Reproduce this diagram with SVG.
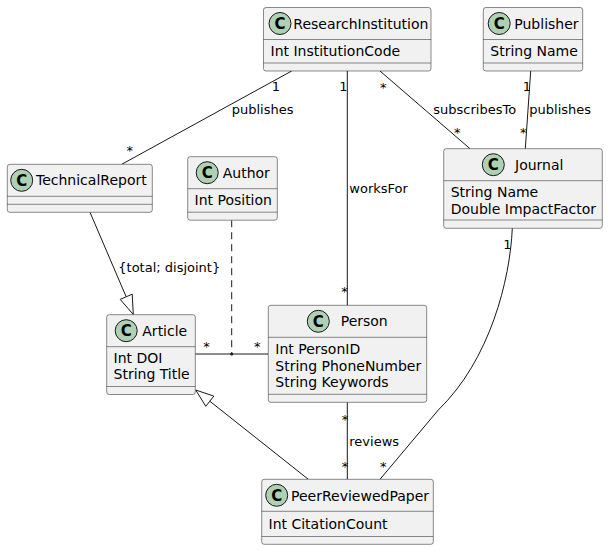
<svg xmlns="http://www.w3.org/2000/svg" width="608" height="550" viewBox="0 0 608 550">
<style>
.box{fill:#F1F1F1;stroke:#181818;stroke-width:0.5}
.sep{stroke:#181818;stroke-width:0.5}
.ic{fill:#ADD1B2;stroke:#181818;stroke-width:1}
.icl{font-family:"DejaVu Sans",sans-serif;font-size:15px;font-weight:bold;fill:#000;text-anchor:middle}
.nm{font-family:"DejaVu Sans",sans-serif;font-size:14px;fill:#000}
.at{font-family:"DejaVu Sans",sans-serif;font-size:14px;fill:#000}
.lk{fill:none;stroke:#181818;stroke-width:1}
.lb{font-family:"DejaVu Sans",sans-serif;font-size:13px;fill:#000}
.tri{fill:none;stroke:#181818;stroke-width:1}
</style>
<rect width="608" height="550" fill="#FFFFFF"/>
<g id="connectors">
<line class="lk" x1="291.7" y1="71" x2="121.7" y2="164.3"/>
<text class="lb" x="271.7" y="90.7">1</text>
<text class="lb" x="231.7" y="114">publishes</text>
<text class="lb" x="126.5" y="155">*</text>
<line class="lk" x1="347.3" y1="71" x2="347.3" y2="305.3"/>
<text class="lb" x="339.3" y="90.7">1</text>
<text class="lb" x="349.3" y="192.7">worksFor</text>
<text class="lb" x="341.3" y="296">*</text>
<line class="lk" x1="380" y1="71" x2="470" y2="148.7"/>
<text class="lb" x="380" y="91.5">*</text>
<text class="lb" x="433.3" y="114">subscribesTo</text>
<text class="lb" x="454" y="136.6">*</text>
<line class="lk" x1="530.7" y1="71" x2="525.3" y2="148.7"/>
<text class="lb" x="522.7" y="90.7">1</text>
<text class="lb" x="529.3" y="114">publishes</text>
<text class="lb" x="520" y="136.6">*</text>
<line class="lk" x1="90" y1="212.3" x2="126.2" y2="296.8"/>
<polygon class="tri" points="133.3,314.5 120.2,299.4 126.2,296.8 132.2,294.2"/>
<text class="lb" x="118.3" y="271.7">{total; disjoint}</text>
<line class="lk" x1="195.3" y1="354" x2="268.3" y2="354"/>
<line class="lk" x1="231.7" y1="220.2" x2="231.7" y2="354" stroke-dasharray="7,5"/>
<circle cx="231.7" cy="354" r="1.5" fill="#181818"/>
<text class="lb" x="203.3" y="350.5">*</text>
<text class="lb" x="254" y="350.5">*</text>
<line class="lk" x1="308.3" y1="479.3" x2="209.8" y2="401.2"/>
<polygon class="tri" points="195.7,390 205.8,406.3 209.8,401.2 213.8,396.1"/>
<line class="lk" x1="347.3" y1="402.3" x2="347.3" y2="479.3"/>
<text class="lb" x="341.7" y="424">*</text>
<text class="lb" x="349.3" y="446">reviews</text>
<text class="lb" x="341.7" y="470.5">*</text>
<path class="lk" d="M512.3,228.3 C510,280 490,360 438.3,410 L380,479.3"/>
<text class="lb" x="503.3" y="249">1</text>
<text class="lb" x="380" y="470.5">*</text>
</g>
<g id="ResearchInstitution">
<rect class="box" x="263.5" y="7.5" width="167.5" height="63.5" rx="2.5"/>
<line class="sep" x1="263.5" y1="39.5" x2="431" y2="39.5"/>
<line class="sep" x1="263.5" y1="63" x2="431" y2="63"/>
<circle class="ic" cx="280" cy="23.5" r="11"/>
<text class="icl" x="280" y="29">C</text>
<text class="nm" x="293.3" y="28.5">ResearchInstitution</text>
<text class="at" x="270.5" y="56">Int InstitutionCode</text>
</g>
<g id="Publisher">
<rect class="box" x="483.3" y="7.5" width="99.4" height="63.5" rx="2.5"/>
<line class="sep" x1="483.3" y1="39.5" x2="582.7" y2="39.5"/>
<line class="sep" x1="483.3" y1="63" x2="582.7" y2="63"/>
<circle class="ic" cx="499.2" cy="23.5" r="11"/>
<text class="icl" x="499.2" y="29">C</text>
<text class="nm" x="514.3" y="28.5">Publisher</text>
<text class="at" x="490.3" y="56">String Name</text>
</g>
<g id="Journal">
<rect class="box" x="443.7" y="148.7" width="158.6" height="79.6" rx="2.5"/>
<line class="sep" x1="443.7" y1="180.7" x2="602.3" y2="180.7"/>
<line class="sep" x1="443.7" y1="220" x2="602.3" y2="220"/>
<circle class="ic" cx="493.3" cy="164.7" r="11"/>
<text class="icl" x="493.3" y="170.2">C</text>
<text class="nm" x="515" y="169.5">Journal</text>
<text class="at" x="450.7" y="197.2">String Name</text>
<text class="at" x="450.7" y="213.5">Double ImpactFactor</text>
</g>
<g id="TechnicalReport">
<rect class="box" x="7.3" y="164.3" width="145" height="48" rx="2.5"/>
<line class="sep" x1="7.3" y1="196.3" x2="152.3" y2="196.3"/>
<line class="sep" x1="7.3" y1="204.3" x2="152.3" y2="204.3"/>
<circle class="ic" cx="21.7" cy="180.3" r="11"/>
<text class="icl" x="21.7" y="185.8">C</text>
<text class="nm" x="36" y="185.3">TechnicalReport</text>
</g>
<g id="Author">
<rect class="box" x="187.7" y="156.7" width="89.6" height="63.5" rx="2.5"/>
<line class="sep" x1="187.7" y1="188.7" x2="277.3" y2="188.7"/>
<line class="sep" x1="187.7" y1="212.2" x2="277.3" y2="212.2"/>
<circle class="ic" cx="207.2" cy="172.7" r="11"/>
<text class="icl" x="207.2" y="178.2">C</text>
<text class="nm" x="222.7" y="177.7">Author</text>
<text class="at" x="194.5" y="205.2">Int Position</text>
</g>
<g id="Article">
<rect class="box" x="106.7" y="314.7" width="88.6" height="79.8" rx="2.5"/>
<line class="sep" x1="106.7" y1="346.7" x2="195.3" y2="346.7"/>
<line class="sep" x1="106.7" y1="386.5" x2="195.3" y2="386.5"/>
<circle class="ic" cx="126.2" cy="330.7" r="11"/>
<text class="icl" x="126.2" y="336.2">C</text>
<text class="nm" x="142.3" y="335.7">Article</text>
<text class="at" x="113.5" y="363">Int DOI</text>
<text class="at" x="113.5" y="379">String Title</text>
</g>
<g id="Person">
<rect class="box" x="268.3" y="305.3" width="158.4" height="97" rx="2.5"/>
<line class="sep" x1="268.3" y1="337.3" x2="426.7" y2="337.3"/>
<line class="sep" x1="268.3" y1="394.3" x2="426.7" y2="394.3"/>
<circle class="ic" cx="318.3" cy="321.3" r="11"/>
<text class="icl" x="318.3" y="326.8">C</text>
<text class="nm" x="340.7" y="326.3">Person</text>
<text class="at" x="275.3" y="354.3">Int PersonID</text>
<text class="at" x="275.3" y="370.6">String PhoneNumber</text>
<text class="at" x="275.3" y="386.9">String Keywords</text>
</g>
<g id="PeerReviewedPaper">
<rect class="box" x="261.7" y="479.3" width="171.6" height="65" rx="2.5"/>
<line class="sep" x1="261.7" y1="511.3" x2="433.3" y2="511.3"/>
<line class="sep" x1="261.7" y1="536.5" x2="433.3" y2="536.5"/>
<circle class="ic" cx="276.7" cy="495.3" r="11"/>
<text class="icl" x="276.7" y="500.8">C</text>
<text class="nm" x="291" y="500.5">PeerReviewedPaper</text>
<text class="at" x="268.5" y="528.5">Int CitationCount</text>
</g>
</svg>
